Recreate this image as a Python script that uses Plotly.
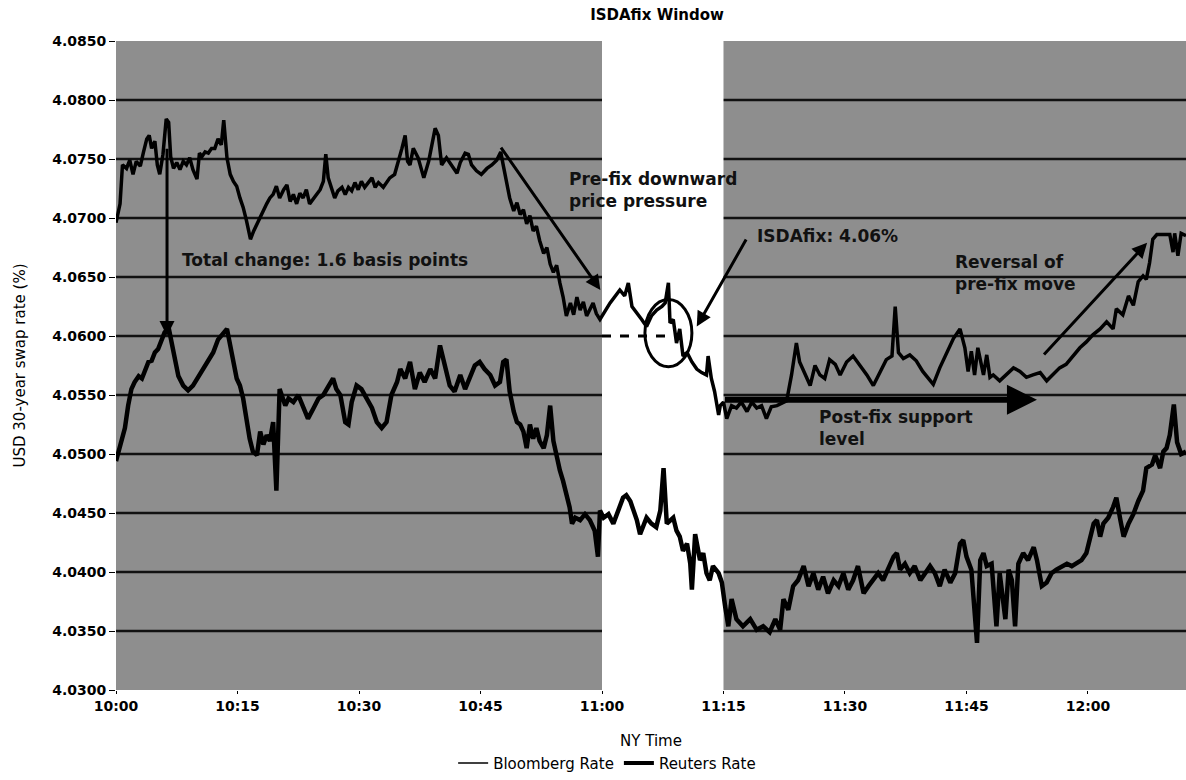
import plotly.graph_objects as go

# ---------------- data (minutes after 10:00 NY time, rate in %) ----------------
bbg_minutes = [0.0, 0.5, 0.8, 1.3, 1.7, 2.1, 2.5, 3.0, 3.4, 3.8, 4.1, 4.4, 4.8, 5.1, 5.4, 5.8, 6.2, 6.5, 6.75,
               7.1, 7.5, 7.9, 8.3, 8.7, 9.1, 9.5, 10.0, 10.3, 10.6, 11.0, 11.4, 11.8, 12.2, 12.6, 13.0, 13.3,
               13.7, 14.1, 14.5, 14.9, 15.3, 15.7, 16.1, 16.6, 17.0, 17.4, 17.8, 18.2, 18.6, 19.0, 19.4, 19.8,
               20.2, 20.7, 21.1, 21.5, 21.9, 22.3, 22.7, 23.1, 23.5, 23.9, 24.4, 24.8, 25.2, 25.6, 25.9, 26.2,
               26.6, 27.0, 27.4, 27.9, 28.3, 28.7, 29.1, 29.5, 29.9, 30.3, 30.7, 31.1, 31.6, 32.0, 32.4, 33.0,
               33.8, 34.4, 34.9, 35.3, 35.7, 36.0, 36.3, 36.7, 37.3, 38.0, 38.6, 39.1, 39.4, 39.8, 40.2, 40.8,
               41.4, 42.1, 42.5, 43.1, 43.5, 43.9, 44.5, 45.1, 45.8, 46.4, 47.0, 47.5, 47.8, 48.2, 48.6, 49.1,
               49.5, 49.9, 50.3, 50.7, 51.1, 51.5, 51.9, 52.3, 52.8, 53.2, 53.6, 54.0, 54.4, 54.8, 55.2, 55.6,
               56.1, 56.5, 56.9, 57.3, 57.7, 58.1, 58.5, 58.9, 59.3, 59.75, 61.0, 62.2, 62.8, 63.25, 63.7, 64.3,
               64.9, 65.5, 66.1, 66.75, 67.4, 67.8, 68.2, 68.4, 68.8, 69.2, 69.6, 70.0, 70.5, 71.1, 71.7, 72.3,
               72.9, 73.1, 73.5, 73.9, 74.4, 74.6, 75.0, 75.4, 76.0, 76.6, 77.2, 77.9, 78.5, 79.1, 79.7, 80.3,
               80.9, 81.6, 82.2, 82.8, 83.4, 84.0, 84.4, 85.1, 85.7, 86.3, 86.9, 87.5, 88.1, 88.8, 89.4, 90.2,
               91.0, 91.85, 92.7, 93.5, 94.3, 95.1, 95.8, 96.2, 96.6, 97.2, 98.0, 98.8, 99.6, 100.9, 101.7,
               102.5, 103.4, 104.2, 104.8, 105.2, 105.6, 106.0, 106.4, 107.1, 107.5, 107.9, 108.3, 109.1,
               109.9, 110.8, 111.6, 112.4, 113.2, 114.1, 114.9, 115.7, 116.5, 117.3, 118.2, 119.0, 119.8,
               120.6, 121.5, 122.3, 123.1, 123.5, 124.3, 125.0, 125.6, 126.2, 126.8, 127.2, 127.6, 128.0,
               128.5, 129.3, 130.1, 130.5, 130.7, 131.1, 131.5, 132.1]
bbg_rate = [4.0696, 4.0712, 4.0745, 4.0742, 4.0749, 4.0737, 4.0748, 4.0744, 4.0756, 4.0767, 4.0770, 4.0759,
            4.0765, 4.0745, 4.0737, 4.0754, 4.0784, 4.0781, 4.0752, 4.0742, 4.0747, 4.0741, 4.0748, 4.0745,
            4.0751, 4.0741, 4.0733, 4.0755, 4.0752, 4.0756, 4.0755, 4.0759, 4.0759, 4.0767, 4.0762, 4.0783,
            4.0751, 4.0737, 4.0731, 4.0727, 4.0717, 4.0709, 4.0698, 4.0682, 4.0689, 4.0695, 4.0700, 4.0706,
            4.0712, 4.0717, 4.0720, 4.0727, 4.0717, 4.0724, 4.0728, 4.0714, 4.0720, 4.0712, 4.0721, 4.0717,
            4.0724, 4.0712, 4.0717, 4.0720, 4.0724, 4.0731, 4.0754, 4.0734, 4.0726, 4.0717, 4.0723, 4.0726,
            4.0720, 4.0726, 4.0723, 4.0730, 4.0724, 4.0731, 4.0726, 4.0730, 4.0734, 4.0726, 4.0730, 4.0726,
            4.0734, 4.0737, 4.0748, 4.0759, 4.0770, 4.0748, 4.0745, 4.0759, 4.0751, 4.0734, 4.0748, 4.0765,
            4.0776, 4.0770, 4.0745, 4.0751, 4.0745, 4.0738, 4.0747, 4.0755, 4.0754, 4.0745, 4.0740, 4.0737,
            4.0742, 4.0745, 4.0749, 4.0756, 4.0745, 4.0731, 4.0717, 4.0706, 4.0713, 4.0703, 4.0707, 4.0695,
            4.0702, 4.0689, 4.0693, 4.0681, 4.0670, 4.0675, 4.0661, 4.0654, 4.0660, 4.0645, 4.0633, 4.0617,
            4.0628, 4.0618, 4.0633, 4.0622, 4.0629, 4.0617, 4.0622, 4.0628, 4.0619, 4.0614, 4.0628, 4.0639,
            4.0634, 4.0645, 4.0625, 4.0620, 4.0614, 4.0608, 4.0617, 4.0622, 4.0625, 4.0628, 4.0645, 4.0611,
            4.0614, 4.0594, 4.0606, 4.0583, 4.0586, 4.0578, 4.0572, 4.0569, 4.0567, 4.0583, 4.0564, 4.0553,
            4.0533, 4.0541, 4.0544, 4.0530, 4.0541, 4.0539, 4.0544, 4.0536, 4.0544, 4.0539, 4.0541, 4.0530,
            4.0540, 4.0541, 4.0543, 4.0545, 4.0567, 4.0594, 4.0578, 4.0567, 4.0558, 4.0575, 4.0567, 4.0564,
            4.0580, 4.0576, 4.0567, 4.0578, 4.0583, 4.0575, 4.0567, 4.0558, 4.0569, 4.0580, 4.0583, 4.0625,
            4.0586, 4.0581, 4.0584, 4.0579, 4.0570, 4.0559, 4.0573, 4.0584, 4.0598, 4.0606, 4.0590, 4.0570,
            4.0587, 4.0567, 4.0590, 4.0567, 4.0584, 4.0565, 4.0567, 4.0562, 4.0567, 4.0573, 4.0570, 4.0565,
            4.0567, 4.0569, 4.0562, 4.0567, 4.0573, 4.0576, 4.0584, 4.0590, 4.0595, 4.0601, 4.0606, 4.0612,
            4.0606, 4.0623, 4.0618, 4.0634, 4.0626, 4.0646, 4.0651, 4.0648, 4.0662, 4.0682, 4.0686, 4.0686,
            4.0686, 4.0671, 4.0687, 4.0668, 4.0687, 4.0685]

rtr_minutes = [0.0, 0.7, 1.1, 1.5, 1.9, 2.3, 2.8, 3.2, 3.6, 4.0, 4.4, 4.8, 5.2, 5.6, 6.0, 6.5, 6.9, 7.3, 7.7,
               8.3, 8.9, 9.5, 10.2, 10.8, 11.4, 12.0, 12.6, 13.3, 13.7, 14.1, 14.5, 14.9, 15.3, 15.7, 16.1,
               16.5, 16.9, 17.4, 17.8, 18.2, 18.6, 19.0, 19.4, 19.8, 20.2, 20.5, 20.9, 21.3, 21.9, 22.5, 23.1,
               23.7, 24.4, 25.0, 25.6, 26.2, 26.8, 27.2, 27.7, 28.3, 28.7, 29.1, 29.7, 30.3, 30.9, 31.6, 32.2,
               32.8, 33.4, 34.0, 34.7, 35.1, 35.7, 36.3, 36.9, 37.5, 38.1, 38.8, 39.4, 40.0, 40.6, 41.2, 41.8,
               42.5, 43.1, 43.7, 44.3, 44.9, 45.5, 46.2, 46.8, 47.4, 47.8, 48.2, 48.6, 49.1, 49.5, 49.9, 50.3,
               50.7, 51.1, 51.5, 51.9, 52.3, 52.8, 53.2, 53.6, 54.0, 54.4, 54.8, 55.2, 55.6, 56.0, 56.3, 56.7,
               57.3, 57.9, 58.5, 59.1, 59.5, 59.75, 60.2, 60.8, 61.4, 62.0, 62.6, 63.0, 63.5, 63.9, 64.3, 64.7,
               65.1, 65.5, 66.1, 66.7, 67.2, 67.6, 68.0, 68.4, 68.8, 69.2, 69.6, 70.0, 70.5, 70.9, 71.1, 71.5,
               72.1, 72.5, 72.9, 73.3, 73.7, 74.4, 74.8, 75.2, 75.6, 76.0, 76.6, 77.4, 78.3, 79.1, 79.9, 80.7,
               81.4, 82.0, 82.4, 83.0, 83.6, 84.2, 84.9, 85.5, 86.1, 86.7, 87.3, 87.9, 88.6, 89.2, 89.8, 90.4,
               91.0, 91.6, 92.3, 92.9, 93.5, 94.1, 94.7, 95.3, 96.0, 96.4, 96.8, 97.4, 98.0, 98.6, 99.3, 99.9,
               100.5, 101.1, 101.7, 102.3, 103.0, 103.6, 104.2, 104.6, 105.0, 105.6, 106.3, 106.7, 107.1,
               107.5, 108.1, 108.7, 109.1, 109.8, 110.2, 110.6, 111.0, 111.4, 112.0, 112.6, 113.3, 113.7,
               114.3, 114.9, 115.5, 116.1, 116.8, 117.4, 118.0, 118.6, 119.2, 119.8, 120.2, 120.7, 121.1,
               121.5, 121.9, 122.5, 123.1, 123.5, 124.0, 124.4, 125.0, 125.6, 126.2, 126.8, 127.2, 127.9,
               128.3, 128.9, 129.3, 129.7, 130.1, 130.6, 131.0, 131.5, 132.1]
rtr_rate = [4.0494, 4.0513, 4.0522, 4.0541, 4.0555, 4.0561, 4.0566, 4.0564, 4.0572, 4.0578, 4.0579, 4.0586,
            4.0589, 4.0597, 4.0603, 4.0607, 4.0594, 4.0578, 4.0566, 4.0558, 4.0554, 4.0558, 4.0566, 4.0572,
            4.0578, 4.0586, 4.0597, 4.0603, 4.0606, 4.0592, 4.0578, 4.0564, 4.0558, 4.0547, 4.0530, 4.0513,
            4.0502, 4.0499, 4.0519, 4.0508, 4.0516, 4.0511, 4.0527, 4.0469, 4.0555, 4.0550, 4.0541, 4.0547,
            4.0544, 4.0550, 4.0541, 4.0530, 4.0539, 4.0547, 4.0550, 4.0558, 4.0564, 4.0555, 4.0550, 4.0527,
            4.0525, 4.0544, 4.0558, 4.0555, 4.0547, 4.0539, 4.0527, 4.0522, 4.0527, 4.0550, 4.0561, 4.0572,
            4.0564, 4.0578, 4.0555, 4.0569, 4.0561, 4.0572, 4.0564, 4.0592, 4.0575, 4.0558, 4.0553, 4.0567,
            4.0555, 4.0564, 4.0575, 4.0578, 4.0572, 4.0567, 4.0558, 4.0561, 4.0578, 4.0580, 4.0553, 4.0536,
            4.0527, 4.0525, 4.0519, 4.0505, 4.0525, 4.0513, 4.0522, 4.0511, 4.0505, 4.0516, 4.0541, 4.0511,
            4.0497, 4.0486, 4.0477, 4.0466, 4.0455, 4.0441, 4.0446, 4.0444, 4.0449, 4.0444, 4.0435, 4.0413,
            4.0452, 4.0446, 4.0449, 4.0441, 4.0452, 4.0463, 4.0465, 4.0460, 4.0452, 4.0444, 4.0432, 4.0438,
            4.0446, 4.0441, 4.0438, 4.0452, 4.0488, 4.0441, 4.0444, 4.0446, 4.0435, 4.0430, 4.0418, 4.0424,
            4.0407, 4.0385, 4.0432, 4.0410, 4.0416, 4.0399, 4.0393, 4.0405, 4.0399, 4.0391, 4.0371, 4.0354,
            4.0377, 4.0360, 4.0354, 4.0360, 4.0351, 4.0354, 4.0349, 4.0360, 4.0351, 4.0377, 4.0368, 4.0388,
            4.0393, 4.0405, 4.0388, 4.0399, 4.0385, 4.0396, 4.0382, 4.0393, 4.0388, 4.0399, 4.0385, 4.0393,
            4.0405, 4.0382, 4.0388, 4.0393, 4.0399, 4.0393, 4.0402, 4.0413, 4.0416, 4.0402, 4.0407, 4.0399,
            4.0405, 4.0393, 4.0399, 4.0405, 4.0399, 4.0388, 4.0402, 4.0391, 4.0399, 4.0424, 4.0427, 4.0413,
            4.0402, 4.0340, 4.0410, 4.0416, 4.0405, 4.0407, 4.0354, 4.0399, 4.0360, 4.0402, 4.0393, 4.0354,
            4.0407, 4.0416, 4.0410, 4.0421, 4.0410, 4.0388, 4.0391, 4.0399, 4.0402, 4.0405, 4.0407, 4.0405,
            4.0407, 4.0410, 4.0416, 4.0427, 4.0441, 4.0444, 4.0430, 4.0441, 4.0446, 4.0455, 4.0463, 4.0444,
            4.0430, 4.0441, 4.0449, 4.0460, 4.0469, 4.0488, 4.0491, 4.0499, 4.0488, 4.0502, 4.0505, 4.0516,
            4.0542, 4.0510, 4.0500, 4.0502]

x_tick_minutes = [0, 15, 30, 45, 60, 75, 90, 105, 120]
x_tick_labels = ["10:00", "10:15", "10:30", "10:45", "11:00", "11:15", "11:30", "11:45", "12:00"]
y_tick_values = [4.030, 4.035, 4.040, 4.045, 4.050, 4.055, 4.060, 4.065, 4.070, 4.075, 4.080, 4.085]

fix_window = [60, 75]            # ISDAfix window 11:00-11:15
isdafix_level = 4.0600
total_change = [4.0760, 4.0600]  # start/end of 1.6 bp move
support_level = 4.0546

X_MAX = 132.1
FONT = "Liberation Sans"
BOLD = "DejaVu Sans"

fig = go.Figure()

fig.add_trace(go.Scatter(x=bbg_minutes, y=bbg_rate, mode="lines", name="Bloomberg Rate",
                         line=dict(color="black", width=3.5), showlegend=False))
fig.add_trace(go.Scatter(x=rtr_minutes, y=rtr_rate, mode="lines", name="Reuters Rate",
                         line=dict(color="black", width=4.5), showlegend=False))
# legend entries
fig.add_trace(go.Scatter(x=[None], y=[None], mode="lines", name="Bloomberg Rate",
                         line=dict(color="black", width=1.5)))
fig.add_trace(go.Scatter(x=[None], y=[None], mode="lines", name="Reuters Rate",
                         line=dict(color="black", width=4)))

# gridlines (interior levels) drawn as shapes so the white window can cover them
for lvl in y_tick_values[1:-1]:
    fig.add_shape(type="line", xref="x", yref="y", x0=0, x1=X_MAX, y0=lvl, y1=lvl,
                  line=dict(color="#111111", width=2.5), layer="below")
# white ISDAfix window
fig.add_shape(type="rect", xref="x", yref="y", x0=fix_window[0], x1=fix_window[1],
              y0=y_tick_values[0], y1=y_tick_values[-1], fillcolor="white",
              line=dict(width=0), layer="below")
# dashed fix level
fig.add_shape(type="line", xref="x", yref="y", x0=fix_window[0], x1=69.5,
              y0=isdafix_level, y1=isdafix_level, line=dict(color="black", width=3, dash="dash"))
# circle around fixing
fig.add_shape(type="circle", xref="x", yref="y", x0=65.3, x1=71.1, y0=4.0574, y1=4.0631,
              line=dict(color="black", width=3))

txt_font = dict(family=BOLD, size=17, color="#111111", weight="bold")

def arrow(x, y, ax, ay, w):
    fig.add_annotation(x=x, y=y, ax=ax, ay=ay, xref="x", yref="y", axref="x", ayref="y",
                       text="", showarrow=True, arrowhead=2, arrowsize=1, arrowwidth=w,
                       arrowcolor="black", standoff=0, startstandoff=0)

arrow(6.3, total_change[1], 6.3, total_change[0], 3)
arrow(59.8, 4.0639, 47.4, 4.0761, 3)
arrow(71.7, 4.0608, 77.9, 4.0683, 3)
arrow(127.3, 4.0679, 114.4, 4.0583, 3)
arrow(113.7, support_level, fix_window[1], support_level, 6)

def label(x, y, text):
    fig.add_annotation(x=x, y=y, xref="x", yref="y", text=text, showarrow=False,
                       xanchor="left", yanchor="middle", align="left", font=txt_font)

label(7.9, 4.0664, "Total change: 1.6 basis points")
label(55.7, 4.0724, "Pre-fix downward<br>price pressure")
label(78.9, 4.0685, "ISDAfix: 4.06%")
label(103.3, 4.0653, "Reversal of<br>pre-fix move")
label(86.5, 4.0522, "Post-fix support<br>level")

fig.update_layout(
    width=1186, height=780,
    margin=dict(l=116, r=0, t=41, b=82),
    paper_bgcolor="white", plot_bgcolor="#8e8e8e",
    title=dict(text="<b>ISDAfix Window</b>", x=0.554, xanchor="center", y=0.981, yanchor="middle",
               font=dict(family=BOLD, size=15, color="black")),
    font=dict(family=FONT, color="black"),
    showlegend=True,
    legend=dict(orientation="h", x=0.459, xanchor="center", y=-0.113, yanchor="middle",
                font=dict(family=BOLD, size=15, color="black"), bgcolor="rgba(0,0,0,0)"),
    xaxis=dict(range=[0, X_MAX], tickvals=x_tick_minutes, ticktext=x_tick_labels, showgrid=False,
               zeroline=False, ticks="outside", ticklen=3, tickcolor="black", automargin=False,
               tickfont=dict(family=BOLD, size=14, weight="bold"),
               title=dict(text="NY Time", font=dict(family=BOLD, size=15), standoff=22)),
    yaxis=dict(range=[y_tick_values[0], y_tick_values[-1]], tickvals=y_tick_values, tickformat=".4f",
               showgrid=False, zeroline=False, ticks="outside", ticklen=6, tickcolor="black",
               automargin=False,
               tickfont=dict(family=BOLD, size=14, weight="bold"),
               title=dict(text="USD 30-year swap rate (%)", font=dict(family=BOLD, size=15), standoff=22)),
)

# remove the default 8px page margin so the 1186x780 figure fills the window exactly
fig.write_html("out.html", config={"displayModeBar": False},
               post_script="document.body.style.margin='0';document.body.style.overflow='hidden';")
